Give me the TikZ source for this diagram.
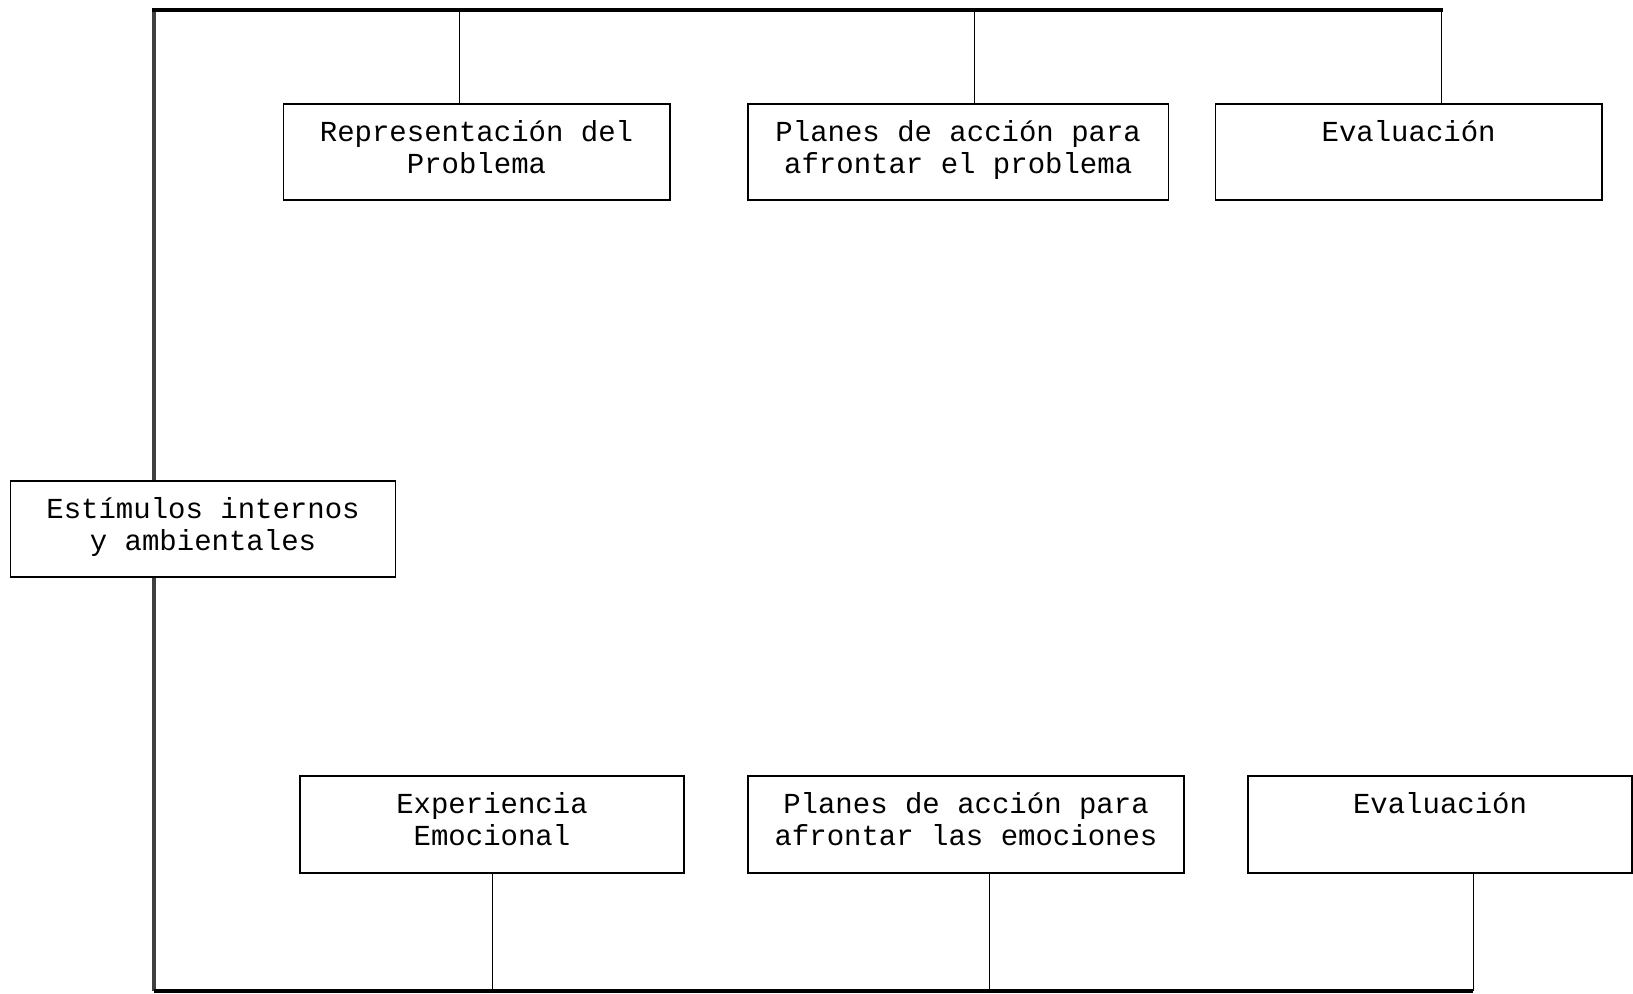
\documentclass[tikz,border=0pt]{standalone}
\usepackage{fontspec}
\newfontfamily\boxfont{Liberation Mono}
\newcommand\boxsetup{\boxfont\fontsize{14.5}{16}\selectfont\lineskiplimit=-100pt\relax}
\newcommand\boxtopstrut{\vrule width 0pt height 13pt depth 0pt\relax}
\newcommand\boxbotstrut{\vrule width 0pt height 0pt depth 4.9pt\relax}
\begin{document}
\begin{tikzpicture}[x=0.5pt,y=-0.5pt,
  stagebox/.style={draw=black, line width=0.8pt, fill=white, align=center,
    inner sep=0pt, font=\boxsetup,
    execute at begin node=\boxtopstrut,
    execute at end node=\boxbotstrut},
  bar/.style={line width=2pt, black},
  sidebar/.style={line width=2.2pt, black!75},
  link/.style={line width=0.5pt, black}]
\useasboundingbox (0,0) rectangle (1633,994);

% frame lines: top bar, left spine, bottom bar
\coordinate (tl) at (154,10);
\coordinate (tr) at (1441,10);
\coordinate (bl) at (154,991);
\coordinate (br) at (1473,991);
\draw[sidebar] (tl) -- (bl);
\draw[bar] ([xshift=-1pt]tl) -- ([xshift=1pt]tr);
\draw[bar, line width=1.6pt] (bl) -- (br);

% branch points on the bars
\coordinate (t1) at (459,10);
\coordinate (t2) at (974,10);
\coordinate (u1) at (492,991);
\coordinate (u2) at (989,991);

% problem-focused row
\node[stagebox, minimum width=193.2pt, minimum height=48pt] (rep) at (476.5,152)
  {Representación del\\Problema};
\node[stagebox, minimum width=210.4pt, minimum height=48pt] (plp) at (958.2,152)
  {Planes de acción para\\afrontar el problema};
\node[stagebox, minimum width=193.2pt, minimum height=48pt] (evp) at (1408.6,152)
  {Evaluación\\\mbox{}};

% stimuli box on the spine
\node[stagebox, minimum width=192.6pt, minimum height=48pt] (est) at (203,529)
  {Estímulos internos\\y ambientales};

% emotion-focused row
\node[stagebox, minimum width=192.2pt, minimum height=48.4pt] (exp) at (492,824.3)
  {Experiencia\\Emocional};
\node[stagebox, minimum width=218.2pt, minimum height=48.4pt] (ple) at (966,824.3)
  {Planes de acción para\\afrontar las emociones};
\node[stagebox, minimum width=192.2pt, minimum height=48.4pt] (eve) at (1440,824.3)
  {Evaluación\\\mbox{}};

% drop lines from the top bar
\draw[link] (t1) -- (t1 |- rep.north);
\draw[link] (t2) -- (t2 |- plp.north);
\draw[link] (tr) -- (tr |- evp.north);

% rise lines to the bottom bar
\draw[link] (exp.south) -- (u1);
\draw[link] (u2 |- ple.south) -- (u2);
\draw[link] (br |- eve.south) -- (br);
\end{tikzpicture}
\end{document}
